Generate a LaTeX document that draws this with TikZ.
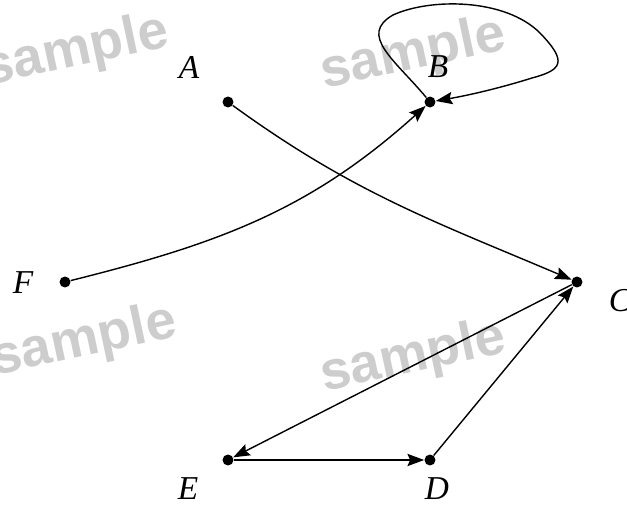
\documentclass[tikz,border=0pt]{standalone}
\usepackage{fontspec}
\setmainfont{Liberation Serif}
\newfontfamily\markfont{Liberation Sans}
\usetikzlibrary{arrows.meta}

\tikzset{
    vertex/.style={circle, fill=black, inner sep=0pt, minimum size=0.22cm},
    vname/.style={font=\fontsize{19}{22}\selectfont\itshape},
    edge/.style={line width=0.8pt, -{Stealth[length=9.5pt, width=7pt, inset=1.5pt]}},
    watermark/.style={font=\markfont\bfseries\fontsize{31}{36}\selectfont, text=markColour, rotate=12}
}

\begin{document}
\begin{tikzpicture}[x=0.02cm, y=-0.02cm]
    \definecolor{markColour}{HTML}{CDCDCD}

    \useasboundingbox (0,0) rectangle (627,507);

    % Watermarks behind everything
    \node[watermark] (wm1) at (76,52) {sample};
    \node[watermark] (wm2) at (413,55) {sample};
    \node[watermark] (wm3) at (84,342) {sample};
    \node[watermark] (wm4) at (413,358) {sample};

    % Vertices
    \node[vertex] (A) at (228,102) {};
    \node[vertex] (B) at (430,102) {};
    \node[vertex] (C) at (577,282) {};
    \node[vertex] (D) at (430,460) {};
    \node[vertex] (E) at (228,460) {};
    \node[vertex] (F) at (65,282) {};

    % Vertex names
    \node[vname] (nameA) at (189,67) {A};
    \node[vname] (nameB) at (438,67) {B};
    \node[vname] (nameC) at (620,301) {C};
    \node[vname] (nameD) at (437,489) {D};
    \node[vname] (nameE) at (188,489) {E};
    \node[vname] (nameF) at (23,283) {F};

    % Edges
    \draw[edge] (A) to[out=-36, in=157] (C);
    \draw[edge] (F) to[out=14, in=-138] (B);
    \draw[edge] (B) .. controls (395,60) and (358,35) .. (393,15)
        .. controls (430,-2) and (505,-2) .. (540,33)
        .. controls (568,62) and (562,70) .. (532,78)
        .. controls (500,88) and (470,95) .. (B);
    \draw[edge] (C) -- (E);
    \draw[edge] (E) -- (D);
    \draw[edge] (D) -- (C);

\end{tikzpicture}
\end{document}
